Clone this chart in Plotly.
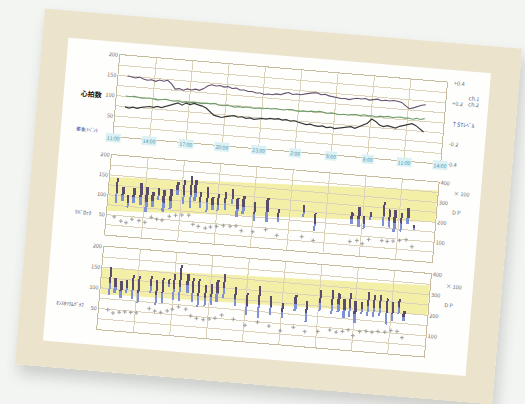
import plotly.graph_objects as go

# ---------------- data ----------------
# time axis: hours after 11:00 on the first day
HOUR_TICKS = [0, 3, 6, 9, 12, 15, 18, 21, 24, 27]
HOUR_LABELS = ["11:00", "14:00", "17:00", "20:00", "23:00",
               "2:00", "5:00", "8:00", "11:00", "14:00"]

# trend panel, sampled every 20 minutes from 11:45
TREND_START_H = 0.75
TREND_STEP_H = 1 / 3
HEART_RATE = [151, 149, 147, 150, 146, 144, 146, 143, 147, 145,
              148, 140, 128, 130, 127, 131, 129, 132, 130, 135,
              143, 146, 144, 146, 143, 145, 141, 143, 139, 140,
              137, 138, 135, 136, 133, 135, 134, 137, 136, 140,
              143, 139, 141, 140, 143, 145, 147, 148, 144, 146,
              143, 142, 141, 139, 140, 138, 141, 143, 142, 144,
              141, 143, 145, 142, 144, 143, 145, 144, 142, 135,
              128, 131, 136, 139, 141]
ST_CH1 = [0.004, 0.000, 0.008, 0.004, -0.004, 0.000, 0.004, -0.004, -0.008, 0.000,
          0.004, -0.004, -0.008, 0.000, -0.012, -0.004, -0.008, 0.000, -0.004, -0.008,
          0.000, -0.004, 0.004, -0.008, -0.012, -0.004, -0.008, -0.016, -0.008, -0.012,
          -0.004, -0.008, -0.012, -0.004, -0.008, 0.000, -0.004, 0.004, 0.000, -0.004,
          0.004, 0.008, 0.000, -0.004, 0.004, 0.000, 0.008, 0.004, 0.012, 0.004,
          0.000, 0.008, 0.004, -0.004, 0.004, 0.000, 0.008, 0.012, 0.004, 0.016,
          0.008, 0.012, 0.004, 0.016, 0.012, 0.020, 0.012, 0.016, 0.024, 0.016,
          0.020, 0.012, 0.024, 0.016, 0.028]
ST_CH2 = [-0.104, -0.112, -0.100, -0.108, -0.096, -0.088, -0.080, -0.084, -0.072, -0.080,
          -0.064, -0.048, -0.032, -0.020, -0.040, -0.016, -0.028, -0.012, -0.024, -0.032,
          -0.048, -0.080, -0.112, -0.120, -0.128, -0.116, -0.108, -0.100, -0.112, -0.104,
          -0.116, -0.108, -0.120, -0.112, -0.104, -0.108, -0.096, -0.100, -0.092, -0.104,
          -0.096, -0.108, -0.100, -0.112, -0.120, -0.128, -0.120, -0.132, -0.136, -0.128,
          -0.140, -0.132, -0.144, -0.136, -0.128, -0.120, -0.112, -0.124, -0.104, -0.088,
          -0.064, -0.020, -0.040, -0.072, -0.084, -0.072, -0.080, -0.088, -0.068, -0.056,
          -0.040, -0.032, -0.048, -0.080, -0.104]

# blood pressure panel 1: time (h), systolic, colour split, diastolic, DP (x100)
BP1_T = [0.63, 1.20, 1.64, 2.10, 2.68, 3.18, 3.67, 4.13, 4.57, 5.14,
         5.65, 6.16, 6.73, 7.13, 7.58, 8.17, 8.59, 9.08, 9.64, 10.19,
         10.67, 11.15, 12.09, 13.14, 14.09, 16.15, 17.11, 20.12, 20.69, 21.16,
         21.65, 22.74, 23.19, 23.67, 24.19, 24.73, 25.25]
BP1_SYS = [144, 123, 104, 122, 137, 128, 117, 128, 124, 128,
           147, 153, 165, 156, 127, 139, 117, 124, 133, 139,
           120, 124, 111, 126, 99, 116, 98, 107, 123, 99,
           111, 141, 122, 123, 117, 129, 89]
BP1_MID = [106, 101, 84, 100, 103, 90, 94, 110, 91, 97,
           128, 116, 117, 123, 103, 101, 97, 98, 105, 116,
           92, 97, 83, 89, 79, 97, 70, 89, 93, 80,
           100, 104, 95, 89, 89, 105, 82]
BP1_DIA = [81, 86, 71, 85, 81, 65, 79, 98, 69, 76,
           115, 91, 85, 101, 87, 76, 84, 81, 87, 101,
           73, 79, 64, 64, 66, 84, 51, 77, 73, 67,
           93, 79, 77, 66, 70, 89, 77]
BP1_DP = [92, 74, 68, 88, 84, 78, 106, 98, 96, 118,
          126, 130, 132, 88, 80, 74, 82, 88, 94, 94,
          98, 76, 76, 92, 68, 72, 58, 68, 76, 62,
          86, 86, 84, 88, 94, 100, 68]
# target zone: (lower, upper) at the start and at the end of the time axis
BP1_ZONE_START = [60, 145]
BP1_ZONE_END = [100, 180]

# blood pressure panel 2
BP2_T = [0.74, 1.19, 1.69, 2.15, 2.64, 3.10, 4.13, 4.60, 5.09, 5.62,
         6.03, 6.52, 7.13, 7.58, 8.07, 8.63, 9.12, 9.59, 10.12, 11.10,
         12.10, 13.10, 14.07, 15.04, 16.08, 17.05, 18.11, 19.09, 19.62, 20.13,
         20.59, 21.02, 21.55, 22.08, 22.56, 23.05, 23.62, 24.10, 24.61, 25.06]
BP2_SYS = [152, 128, 121, 126, 136, 137, 140, 129, 136, 135,
           149, 171, 152, 141, 142, 127, 132, 142, 160, 129,
           119, 138, 115, 101, 122, 111, 139, 141, 134, 123,
           137, 121, 119, 145, 138, 139, 132, 125, 135, 106]
BP2_MID = [112, 106, 96, 106, 101, 97, 115, 94, 100, 123,
           112, 119, 124, 106, 102, 97, 102, 110, 125, 101,
           87, 91, 88, 79, 100, 81, 109, 106, 107, 95,
           102, 89, 101, 110, 106, 109, 95, 97, 112, 91]
BP2_DIA = [85, 91, 80, 93, 78, 71, 98, 70, 76, 115,
           87, 84, 106, 83, 75, 77, 82, 88, 101, 83,
           65, 59, 70, 64, 85, 61, 89, 83, 89, 77,
           78, 67, 89, 86, 84, 89, 70, 79, 97, 81]
BP2_DP = [98, 84, 90, 94, 94, 94, 120, 110, 106, 116,
          126, 140, 132, 102, 92, 88, 94, 100, 118, 102,
          78, 98, 84, 66, 88, 72, 78, 90, 82, 88,
          98, 72, 94, 98, 96, 102, 102, 112, 110, 82]
BP2_ZONE_START = [85, 148]
BP2_ZONE_END = [100, 172]

LEFT_TICKS = [0, 25, 50, 75, 100, 125, 150, 175, 200]
LEFT_TEXT = ["", "", "50", "", "100", "", "150", "", "200"]
ST_TICKS = [-0.4, -0.2, 0.2, 0.4]
ST_TEXT = ["-0.4", "-0.2", "+0.2", "+0.4"]
DP_TICKS = [100, 200, 300, 400]
DP_TEXT = ["100", "200", "300", "400"]

# ---------------- styling ----------------
W, H = 479, 357
ML, MR, MT, MB = 79, 72, 40, 42
FONT = "Noto Sans CJK JP, Noto Sans, sans-serif"
GRID = "#dcd2b9"
FRAME = "#c7bb9f"
TICKFONT = dict(family=FONT, size=5.5, color="#6a6a6a")
DARK_BAR = "#5a4d6c"
BLUE_BAR = "#8090d4"
DOT = "#9a9a9a"
T_MAX = HOUR_TICKS[-1]

trend_t = [TREND_START_H + i * TREND_STEP_H for i in range(len(HEART_RATE))]

fig = go.Figure()

# trend panel
fig.add_trace(go.Scatter(x=trend_t, y=HEART_RATE, mode="lines", xaxis="x", yaxis="y",
                         line=dict(color="#64506c", width=1.1), name="HR"))
fig.add_trace(go.Scatter(x=trend_t, y=ST_CH1, mode="lines", xaxis="x", yaxis="y2",
                         line=dict(color="#6f9c6c", width=1.1), name="ch.1"))
fig.add_trace(go.Scatter(x=trend_t, y=ST_CH2, mode="lines", xaxis="x", yaxis="y2",
                         line=dict(color="#383838", width=1.2), name="ch.2"))


def bp_panel(t, sys_, mid, dia, dp, xa, ya, ya_dp):
    fig.add_trace(go.Bar(x=t, y=[m - d for m, d in zip(mid, dia)], base=dia,
                         width=0.19, marker=dict(color=BLUE_BAR, line=dict(width=0)),
                         xaxis=xa, yaxis=ya))
    fig.add_trace(go.Bar(x=t, y=[s - m for s, m in zip(sys_, mid)], base=mid,
                         width=0.19, marker=dict(color=DARK_BAR, line=dict(width=0)),
                         xaxis=xa, yaxis=ya))
    fig.add_trace(go.Scatter(x=t, y=dp, mode="markers", xaxis=xa, yaxis=ya_dp,
                             marker=dict(symbol="cross-thin", size=2.8,
                                         line=dict(color=DOT, width=0.9))))


bp_panel(BP1_T, BP1_SYS, BP1_MID, BP1_DIA, BP1_DP, "x2", "y3", "y4")
bp_panel(BP2_T, BP2_SYS, BP2_MID, BP2_DIA, BP2_DP, "x3", "y5", "y6")


def xax(anchor):
    return dict(range=[0, T_MAX], anchor=anchor, tickvals=HOUR_TICKS, showticklabels=False,
                showgrid=True, gridcolor=GRID, gridwidth=1, zeroline=False,
                showline=True, mirror=True, linecolor=FRAME, linewidth=1, ticks="")


def yleft(domain, anchor):
    return dict(domain=domain, range=[0, 200], anchor=anchor, tickvals=LEFT_TICKS,
                ticktext=LEFT_TEXT, tickfont=TICKFONT, showgrid=True, gridcolor=GRID,
                zeroline=False, showline=True, mirror=True, linecolor=FRAME, ticks="")


def yright(overlay, anchor, rng, vals, text, standoff):
    return dict(overlaying=overlay, side="right", anchor=anchor, range=rng,
                tickvals=vals, ticktext=text, tickfont=TICKFONT, showgrid=False,
                zeroline=False, showline=False, ticks="", ticklabelstandoff=standoff)


# pixel geometry of the printed sheet and the plotting area
plot_w = W - ML - MR
plot_h = H - MT - MB
SHEET = dict(left=26, right=450, top=27, bottom=331)


def px_to_paper_x(px):
    return (px - ML) / plot_w


def px_to_paper_y(py):
    return (H - MB - py) / plot_h


fig.update_layout(
    width=W, height=H,
    margin=dict(l=ML, r=MR, t=MT, b=MB, pad=0),
    paper_bgcolor="#ebe3cc", plot_bgcolor="#ffffff",
    showlegend=False, barmode="overlay", bargap=0,
    font=dict(family=FONT, size=6, color="#555"),
    xaxis=xax("y"), xaxis2=xax("y3"), xaxis3=xax("y5"),
    yaxis=yleft([0.704, 1.0], "x"),
    yaxis2=yright("y", "x", [-0.4, 0.4], ST_TICKS, ST_TEXT, 6),
    yaxis3=yleft([0.345, 0.635], "x2"),
    yaxis4=yright("y3", "x2", [0, 400], DP_TICKS, DP_TEXT, 1),
    yaxis5=yleft([0.0, 0.301], "x3"),
    yaxis6=yright("y5", "x3", [0, 400], DP_TICKS, DP_TEXT, 1),
)

shapes = [
    # white printed sheet on the mat
    dict(type="rect", xref="paper", yref="paper", layer="below",
         x0=px_to_paper_x(SHEET["left"]), x1=px_to_paper_x(SHEET["right"]),
         y0=px_to_paper_y(SHEET["bottom"]), y1=px_to_paper_y(SHEET["top"]),
         fillcolor="#fefefd", line=dict(width=0)),
]
for xa, ya, z0, z1 in (("x2", "y3", BP1_ZONE_START, BP1_ZONE_END),
                       ("x3", "y5", BP2_ZONE_START, BP2_ZONE_END)):
    path = (f"M 0,{z0[0]} L {T_MAX},{z1[0]} L {T_MAX},{z1[1]} "
            f"L 0,{z0[1]} Z")
    shapes.append(dict(type="path", xref=xa, yref=ya, layer="below", path=path,
                       fillcolor="#f3efa6", line=dict(width=0)))
fig.update_layout(shapes=shapes)

ann = []
# clock labels along the bottom of the trend panel
for h, lab in zip(HOUR_TICKS, HOUR_LABELS):
    ann.append(dict(x=h, y=0, xref="x", yref="y", text=lab, showarrow=False,
                    font=dict(family=FONT, size=5.2, color="#4894b2"),
                    bgcolor="#dcf1f4", borderpad=0.5, yshift=-2))


def left_label(text, y, yref, size=6, color="#333", bold=False):
    t = f"<b>{text}</b>" if bold else text
    ann.append(dict(x=0, xref="paper", y=y, yref=yref, text=t, showarrow=False,
                    xanchor="right", xshift=-13,
                    font=dict(family=FONT, size=size, color=color)))


left_label("心拍数", 100, "y", size=7, color="#111", bold=True)
left_label("事象ｲﾍﾞﾝﾄ", 12, "y", size=5, color="#3a4c9a")
left_label("ﾘﾊﾞﾛｯｸ", 50, "y3", size=5.5, color="#3a3a6a")
left_label("ｵﾝｽﾀﾘｳﾑｸﾞﾗﾌ", 55, "y5", size=5, color="#3a3a6a")


def right_label(text, y, yref, xshift, size=5.5, color="#6a6a6a"):
    ann.append(dict(x=1, xref="paper", y=y, yref=yref, text=text, showarrow=False,
                    xanchor="left", xshift=xshift,
                    font=dict(family=FONT, size=size, color=color)))


right_label("ch.1", 0.26, "y2", 21)
right_label("ch.2", 0.2, "y2", 21)
right_label("↑STﾚﾍﾞﾙ", 0, "y2", 6, color="#3a4c9a")
for yref in ("y4", "y6"):
    right_label("× 100", 350, yref, 14)
    right_label("D P", 255, yref, 14)

fig.update_layout(annotations=ann)

# mount the sheet slightly rotated on a pale wall
POST = """
var gd = document.getElementById('{plot_id}');
document.documentElement.style.background = '#f3f5f3';
document.body.style.margin = '0';
document.body.style.background = '#f3f5f3';
document.body.style.overflow = 'hidden';
gd.style.position = 'absolute';
gd.style.left = '29px';
gd.style.top = '28px';
gd.style.transformOrigin = '50% 50%';
gd.style.transform = 'rotate(4.8deg)';
gd.style.boxShadow = '4px 9px 14px rgba(70,70,60,0.22)';
"""

fig.write_html("out.html", post_script=POST)
